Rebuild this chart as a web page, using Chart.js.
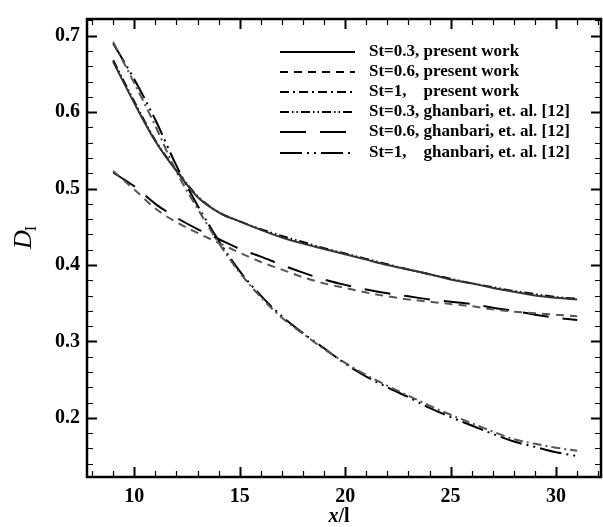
<!DOCTYPE html>
<html>
<head>
<meta charset="utf-8">
<script src="https://cdn.jsdelivr.net/npm/chart.js@4.4.1/dist/chart.umd.min.js"></script>
<style>
  html, body { margin: 0; padding: 0; background: #fff; }
  #wrap { width: 603px; height: 527px; }
</style>
</head>
<body>
<div id="wrap"><canvas id="chart" width="603" height="527"></canvas></div>
<script>
// x/l positions where the curves were read
const xValues = [9, 10, 11, 12, 13, 14, 15, 16, 17, 18, 19, 20, 21, 22, 23, 24, 25, 26, 27, 28, 29, 30, 31];

// present work
const st03Present = [0.666, 0.612, 0.562, 0.523, 0.489, 0.469, 0.457, 0.446, 0.436, 0.428, 0.421, 0.414, 0.407, 0.400, 0.394, 0.388, 0.381, 0.376, 0.370, 0.365, 0.360, 0.357, 0.355];
const st06Present = [0.523, 0.499, 0.474, 0.456, 0.442, 0.429, 0.416, 0.404, 0.394, 0.384, 0.376, 0.370, 0.364, 0.359, 0.355, 0.352, 0.349, 0.346, 0.342, 0.339, 0.337, 0.335, 0.333];
const st1Present  = [0.692, 0.638, 0.582, 0.522, 0.474, 0.429, 0.390, 0.358, 0.331, 0.310, 0.290, 0.272, 0.256, 0.242, 0.229, 0.216, 0.204, 0.193, 0.182, 0.172, 0.166, 0.161, 0.157];

// ghanbari, et. al. [12]
const st03Ghanbari = [0.668, 0.614, 0.563, 0.524, 0.490, 0.469, 0.457, 0.447, 0.438, 0.430, 0.422, 0.415, 0.408, 0.401, 0.394, 0.388, 0.382, 0.376, 0.371, 0.366, 0.362, 0.358, 0.356];
const st06Ghanbari = [0.521, 0.503, 0.480, 0.462, 0.447, 0.434, 0.421, 0.411, 0.400, 0.390, 0.381, 0.374, 0.368, 0.363, 0.359, 0.355, 0.352, 0.349, 0.344, 0.340, 0.335, 0.331, 0.328];
const st1Ghanbari  = [0.690, 0.643, 0.590, 0.530, 0.478, 0.432, 0.392, 0.360, 0.333, 0.311, 0.291, 0.271, 0.254, 0.240, 0.227, 0.213, 0.201, 0.190, 0.179, 0.169, 0.162, 0.155, 0.150];

const seriesLabels = [
  ['St=0.3,', 'present work'],
  ['St=0.6,', 'present work'],
  ['St=1,', 'present work'],
  ['St=0.3,', 'ghanbari, et. al. [12]'],
  ['St=0.6,', 'ghanbari, et. al. [12]'],
  ['St=1,', 'ghanbari, et. al. [12]']
];

const xTickVals = [10, 15, 20, 25, 30];
const yTickVals = [0.2, 0.3, 0.4, 0.5, 0.6, 0.7];
const xMinorVals = [8, 9, 11, 12, 13, 14, 16, 17, 18, 19, 21, 22, 23, 24, 26, 27, 28, 29, 31, 32];
const yMinorVals = [0.14, 0.16, 0.18, 0.22, 0.24, 0.26, 0.28, 0.32, 0.34, 0.36, 0.38, 0.42, 0.44, 0.46, 0.48, 0.52, 0.54, 0.56, 0.58, 0.62, 0.64, 0.66, 0.68, 0.72];

const SERIF = '"Liberation Serif", "Times New Roman", serif';
const GRAY = '#555555';
const BLACK = '#000000';

function pts(ys) {
  return xValues.map((x, i) => ({ x: x, y: ys[i] }));
}

const styles = [
  { data: st03Present, color: '#333333', dash: [] },
  { data: st06Present, color: GRAY, dash: [8, 6] },
  { data: st1Present, color: GRAY, dash: [9, 4, 2, 4] },
  { data: st03Ghanbari, color: BLACK, dash: [9, 3, 1.5, 3, 1.5, 3] },
  { data: st06Ghanbari, color: BLACK, dash: [26, 14] },
  { data: st1Ghanbari, color: BLACK, dash: [22, 5, 2, 5, 2, 5] }
];

const datasets = styles.map((s, i) => ({
  label: seriesLabels[i].join(' '),
  data: pts(s.data),
  borderColor: s.color,
  borderDash: s.dash,
  borderWidth: 2,
  pointRadius: 0,
  fill: false,
  cubicInterpolationMode: 'monotone'
}));

// frame, inward ticks, axis titles and legend
const decor = {
  id: 'decor',
  afterDraw(chart) {
    const ctx = chart.ctx;
    const a = chart.chartArea;
    const xs = chart.scales.x, ys = chart.scales.y;
    ctx.save();
    ctx.strokeStyle = '#000';

    const tick = (vals, len) => {
      vals.forEach(v => {
        const px = Math.round(xs.getPixelForValue(v)) + 0.5;
        if (px < a.left || px > a.right) return;
        ctx.beginPath();
        ctx.moveTo(px, a.bottom); ctx.lineTo(px, a.bottom - len);
        ctx.moveTo(px, a.top); ctx.lineTo(px, a.top + len);
        ctx.stroke();
      });
    };
    const tickY = (vals, len) => {
      vals.forEach(v => {
        const py = Math.round(ys.getPixelForValue(v)) + 0.5;
        if (py < a.top || py > a.bottom) return;
        ctx.beginPath();
        ctx.moveTo(a.left, py); ctx.lineTo(a.left + len, py);
        ctx.moveTo(a.right, py); ctx.lineTo(a.right - len, py);
        ctx.stroke();
      });
    };
    ctx.lineWidth = 2;
    tick(xTickVals, 10); tickY(yTickVals, 10);
    ctx.lineWidth = 1.2;
    tick(xMinorVals, 6); tickY(yMinorVals, 6);

    ctx.lineWidth = 2.5;
    ctx.strokeRect(a.left, a.top, a.right - a.left, a.bottom - a.top);

    // axis titles
    ctx.fillStyle = '#000';
    ctx.textBaseline = 'alphabetic';
    ctx.font = 'italic bold 20px ' + SERIF;
    const xw = ctx.measureText('x').width;
    ctx.font = 'bold 20px ' + SERIF;
    const sw = ctx.measureText('/l').width;
    let tx = 339 - (xw + sw) / 2;
    ctx.font = 'italic bold 20px ' + SERIF;
    ctx.fillText('x', tx, 522);
    ctx.font = 'bold 20px ' + SERIF;
    ctx.fillText('/l', tx + xw, 522);

    ctx.save();
    ctx.translate(31, 240);
    ctx.rotate(-Math.PI / 2);
    ctx.font = 'italic 26px ' + SERIF;
    const dw = ctx.measureText('D').width;
    ctx.fillText('D', -9, 0);
    ctx.font = '16px ' + SERIF;
    ctx.fillText('I', -9 + dw - 1, 5);
    ctx.restore();

    // legend
    ctx.font = 'bold 17px ' + SERIF;
    const restX = 369 + ctx.measureText('St=0.3, ').width;
    const rowY = [52, 72, 92, 112, 132, 153];
    chart.data.datasets.forEach((ds, i) => {
      const y = rowY[i];
      ctx.strokeStyle = BLACK;
      ctx.lineWidth = 2;
      ctx.setLineDash(ds.borderDash);
      ctx.beginPath();
      ctx.moveTo(280, y); ctx.lineTo(355, y);
      ctx.stroke();
      ctx.setLineDash([]);
      ctx.textBaseline = 'middle';
      ctx.fillText(seriesLabels[i][0], 369, y);
      ctx.fillText(seriesLabels[i][1], restX, y);
    });
    ctx.restore();
  }
};

new Chart(document.getElementById('chart'), {
  type: 'line',
  data: { datasets: datasets },
  options: {
    responsive: false,
    animation: false,
    layout: { padding: { top: 12, right: 2, left: 0, bottom: 0 } },
    plugins: { legend: { display: false }, tooltip: { enabled: false } },
    scales: {
      x: {
        type: 'linear',
        min: 7.76,
        max: 32.13,
        grid: { display: false, drawTicks: false },
        border: { display: false },
        afterBuildTicks: s => { s.ticks = xTickVals.map(v => ({ value: v })); },
        afterFit: s => { s.height = 50; },
        ticks: {
          color: '#000',
          padding: 8,
          maxRotation: 0,
          font: { family: SERIF, size: 20, weight: 'bold' },
          callback: v => String(v)
        }
      },
      y: {
        type: 'linear',
        min: 0.1226,
        max: 0.7219,
        grid: { display: false, drawTicks: false },
        border: { display: false },
        afterBuildTicks: s => { s.ticks = yTickVals.map(v => ({ value: v })); },
        afterFit: s => { s.width = 87; },
        ticks: {
          color: '#000',
          padding: 7,
          font: { family: SERIF, size: 20, weight: 'bold' },
          callback: v => v.toFixed(1)
        }
      }
    }
  },
  plugins: [decor]
});
</script>
</body>
</html>
